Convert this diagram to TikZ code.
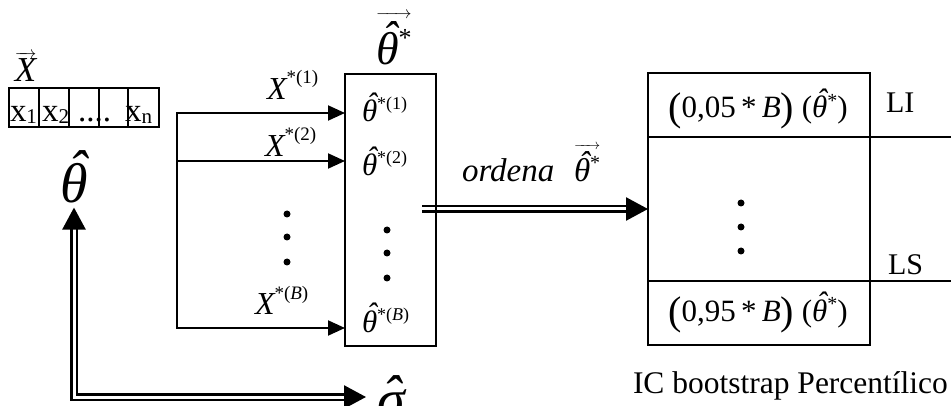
\documentclass[tikz,border=0pt]{standalone}
\usepackage{fontspec}
\setmainfont{Liberation Serif}
\usetikzlibrary{arrows.meta,backgrounds}
\newcommand{\fsz}[1]{\fontsize{#1}{#1}\selectfont}
\newcommand{\thh}{{\itshape\accent"02C6 θ}}
\newcommand{\sgh}{{\itshape\accent"02C6 σ}}
\newcommand{\supx}[3]{\raisebox{#1}{\fsz{#2}#3}}
\newcommand{\bigp}[1]{{\fsz{40}\raisebox{-3pt}{#1}}}
\newsavebox\vecbox
\newcommand{\vecar}[3]{\sbox\vecbox{#3}\vbox{\offinterlineskip\hbox to \wd\vecbox{\fsz{#1}\rightarrowfill}\kern#2\box\vecbox}}
\tikzset{dtip/.tip={Triangle[length=22pt,width=23pt]},
  stip/.tip={Triangle[length=17pt,width=15pt]}}
\begin{document}
\begin{tikzpicture}[x=1pt,y=-1pt,
  every node/.style={inner sep=0pt,outer sep=0pt},
  cell/.style={draw,line width=2pt,minimum height=39pt},
  box/.style={draw,line width=2pt},
  ln/.style={line width=2pt},
  arr/.style={line width=2pt,-stip},
  dbl/.style={double,line width=2.5pt,double distance=3pt},
  dotf/.style={fill=black}]
\useasboundingbox (0,0) rectangle (951,406);
% input vector
\node[anchor=base west] (xv) at (15,82) {\fsz{35}\vecar{18}{1pt}{\itshape X}};
\node[cell,minimum width=30pt] (c1) at (24,107.5) {};
\node[cell,minimum width=30pt] (c2) at (54,107.5) {};
\node[cell,minimum width=30pt] (c3) at (84,107.5) {};
\node[cell,minimum width=29pt] (c4) at (113.5,107.5) {};
\node[cell,minimum width=31pt] (c5) at (143.5,107.5) {};
\node[anchor=base west] (t1) at (10,122) {\fsz{33}x\raisebox{-2pt}{\fsz{21}1}};
\node[anchor=base west] (t2) at (42,122) {\fsz{33}x\raisebox{-2pt}{\fsz{21}2}};
\node[anchor=base west] (t3) at (78,122) {\fsz{33}....};
\node[anchor=base west] (t4) at (125,122) {\fsz{33}x\raisebox{-2pt}{\fsz{21}n}};
% theta hat and sigma hat
\node[anchor=base] (theta) at (74,203) {\fsz{56}\thh};
\node[anchor=base west] (sigma) at (377,418) {\fsz{56}\sgh};
\coordinate (sg) at (366,397);
\draw[dbl,dtip-dtip,shorten <=4pt] (theta.south) |- (sg);
% bootstrap box
\node[box,minimum width=91pt,minimum height=272pt] (tbox) at (390.5,210) {};
\node[anchor=base west] (tt) at (376,65) {\fsz{46}\vecar{16}{3pt}{\thh\supx{18pt}{26}{*}}};
\node[anchor=base west] (b1) at (362,122) {\fsz{31}\thh\supx{12pt}{18}{*(1)}};
\node[anchor=base west] (b2) at (362,176) {\fsz{31}\thh\supx{12pt}{18}{*(2)}};
\node[anchor=base west] (b3) at (362,332) {\fsz{31}\thh\supx{12pt}{18}{*(\itshape B\upshape)}};
\foreach \y in {230,253,278} \fill[dotf] (387,\y) circle (3.5);
% distribution
\coordinate (s1) at (177,113);
\coordinate (s2) at (177,161);
\coordinate (s3) at (177,328);
\draw[ln,line cap=rect] (s1) -- (s3);
\draw[arr] (s1) -- (s1 -| tbox.west);
\draw[arr] (s2) -- (s2 -| tbox.west);
\draw[arr] (s3) -- (s3 -| tbox.west);
\node[anchor=base west] (l1) at (267,100) {\fsz{32}\itshape X\upshape\supx{16pt}{19}{*(1)}};
\node[anchor=base west] (l2) at (265,157) {\fsz{32}\itshape X\upshape\supx{16pt}{19}{*(2)}};
\node[anchor=base west] (l3) at (255,315) {\fsz{32}\itshape X\upshape\supx{16pt}{19}{*(\itshape B\upshape)}};
\foreach \y in {214,237,262} \fill[dotf] (287,\y) circle (3.5);
% result box
\node[box,minimum width=222pt,minimum height=272pt] (rbox) at (759,209) {};
\coordinate (e1) at (951,137);
\coordinate (e2) at (951,281);
\draw[line width=1.8pt] (rbox.west |- e1) -- (e1);
\draw[line width=1.8pt] (rbox.west |- e2) -- (e2);
\node[anchor=base] (r1) at (758,118) {\fsz{31}\bigp{(}0,05\,*\,\itshape B\upshape\bigp{)}\ (\thh\supx{10pt}{20}{*})};
\node[anchor=base] (r2) at (758,321) {\fsz{31}\bigp{(}0,95\,*\,\itshape B\upshape\bigp{)}\ (\thh\supx{10pt}{20}{*})};
\foreach \y in {203,227,251} \fill[dotf] (741,\y) circle (3.5);
\node[anchor=base west] (li) at (886,113) {\fsz{30}LI};
\node[anchor=base west] (ls) at (888,275) {\fsz{30}LS};
\node[anchor=base west] (ic) at (633,393) {\fsz{31.5}IC bootstrap Percentílico};
% ordena
\coordinate (ost) at (422,209);
\begin{scope}[on background layer]
\draw[dbl,-dtip] (ost) -- (ost -| rbox.west);
\end{scope}
\node[anchor=base west] (ord) at (462,182) {\fsz{33}\itshape ordena};
\node[anchor=base west] (ov) at (574,182) {\fsz{33}\vecar{14}{2pt}{\thh\supx{12pt}{20}{*}}};
\end{tikzpicture}
\end{document}
